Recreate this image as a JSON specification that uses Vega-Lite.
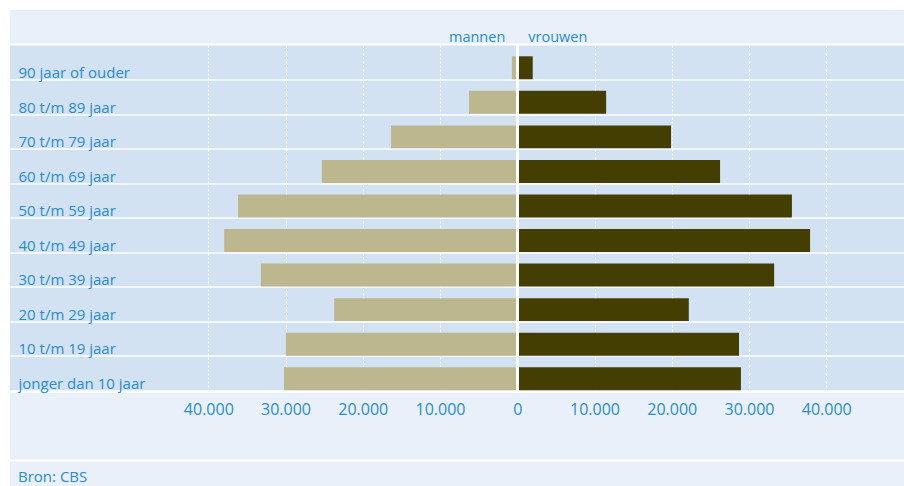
{
  "$schema": "https://vega.github.io/schema/vega-lite/v6.json",
  "background": "white",
  "padding": {"left": 10, "top": 10, "right": 0, "bottom": 0},
  "spacing": 1.5,
  "bounds": "flush",
  "resolve": {"scale": {"x": "independent"}, "axis": {"x": "independent"}},
  "config": {"font": "Open Sans", "view": {"stroke": null}},
  "vconcat": [
    {
      "width": 894,
      "height": 33.5,
      "view": {"fill": "#e9f0f9", "stroke": null},
      "layer": [
        {
          "data": {"values": [{"geslacht": "mannen"}]},
          "mark": {"type": "text", "align": "right", "baseline": "alphabetic", "dx": -12, "dy": 14.75, "fontSize": 14.5, "color": "#2a8ccb"},
          "encoding": {
            "text": {"field": "geslacht"},
            "x": {"datum": 0, "type": "quantitative", "scale": {"domain": [-65670, 50060], "nice": false, "zero": false}, "axis": null}
          }
        },
        {
          "data": {"values": [{"geslacht": "vrouwen"}]},
          "mark": {"type": "text", "align": "left", "baseline": "alphabetic", "dx": 11, "dy": 14.75, "fontSize": 14.5, "color": "#2a8ccb"},
          "encoding": {
            "text": {"field": "geslacht"},
            "x": {"datum": 0, "type": "quantitative"}
          }
        }
      ]
    },
    {
      "width": 894,
      "height": 345.5,
      "view": {"fill": "#d3e2f2", "stroke": null},
      "data": {
        "values": [
          {"leeftijd": "90 jaar of ouder", "geslacht": "mannen", "aantal": -700},
          {"leeftijd": "90 jaar of ouder", "geslacht": "vrouwen", "aantal": 2000},
          {"leeftijd": "80 t/m 89 jaar", "geslacht": "mannen", "aantal": -6250},
          {"leeftijd": "80 t/m 89 jaar", "geslacht": "vrouwen", "aantal": 11500},
          {"leeftijd": "70 t/m 79 jaar", "geslacht": "mannen", "aantal": -16350},
          {"leeftijd": "70 t/m 79 jaar", "geslacht": "vrouwen", "aantal": 19900},
          {"leeftijd": "60 t/m 69 jaar", "geslacht": "mannen", "aantal": -25300},
          {"leeftijd": "60 t/m 69 jaar", "geslacht": "vrouwen", "aantal": 26250},
          {"leeftijd": "50 t/m 59 jaar", "geslacht": "mannen", "aantal": -36150},
          {"leeftijd": "50 t/m 59 jaar", "geslacht": "vrouwen", "aantal": 35550},
          {"leeftijd": "40 t/m 49 jaar", "geslacht": "mannen", "aantal": -37950},
          {"leeftijd": "40 t/m 49 jaar", "geslacht": "vrouwen", "aantal": 37900},
          {"leeftijd": "30 t/m 39 jaar", "geslacht": "mannen", "aantal": -33200},
          {"leeftijd": "30 t/m 39 jaar", "geslacht": "vrouwen", "aantal": 33250},
          {"leeftijd": "20 t/m 29 jaar", "geslacht": "mannen", "aantal": -23700},
          {"leeftijd": "20 t/m 29 jaar", "geslacht": "vrouwen", "aantal": 22200},
          {"leeftijd": "10 t/m 19 jaar", "geslacht": "mannen", "aantal": -29950},
          {"leeftijd": "10 t/m 19 jaar", "geslacht": "vrouwen", "aantal": 28700},
          {"leeftijd": "jonger dan 10 jaar", "geslacht": "mannen", "aantal": -30200},
          {"leeftijd": "jonger dan 10 jaar", "geslacht": "vrouwen", "aantal": 28950}
        ]
      },
      "layer": [
        {
          "mark": {"type": "bar", "height": {"band": 0.665}, "yOffset": 5},
          "encoding": {
            "y": {
              "field": "leeftijd",
              "type": "nominal",
              "sort": ["90 jaar of ouder", "80 t/m 89 jaar", "70 t/m 79 jaar", "60 t/m 69 jaar", "50 t/m 59 jaar", "40 t/m 49 jaar", "30 t/m 39 jaar", "20 t/m 29 jaar", "10 t/m 19 jaar", "jonger dan 10 jaar"],
              "scale": {"paddingInner": 0, "paddingOuter": 0},
              "axis": {
                "title": null, "domain": false, "ticks": false,
                "grid": true, "gridColor": "white", "gridWidth": 1.5, "bandPosition": 1,
                "labelAlign": "left", "labelBaseline": "alphabetic", "labelPadding": -8, "labelOffset": 15.3,
                "labelFontSize": 15, "labelColor": "#2a8ccb", "labelLimit": 300
              }
            },
            "x": {
              "field": "aantal",
              "type": "quantitative",
              "stack": null,
              "scale": {"domain": [-65670, 50060], "nice": false, "zero": false},
              "axis": {
                "title": null,
                "values": [-40000, -30000, -20000, -10000, 0, 10000, 20000, 30000, 40000],
                "labels": false, "ticks": false, "domain": false,
                "grid": true, "gridColor": "white", "gridDash": [2, 2], "gridWidth": 1
              }
            },
            "color": {
              "field": "geslacht",
              "type": "nominal",
              "scale": {"domain": ["mannen", "vrouwen"], "range": ["#bcb78f", "#453e03"]},
              "legend": null
            }
          }
        },
        {
          "mark": {"type": "rule", "color": "white", "strokeWidth": 2},
          "encoding": {"x": {"datum": 0, "type": "quantitative"}}
        }
      ]
    },
    {
      "width": 894,
      "height": 66.5,
      "view": {"fill": "#e9f0f9", "stroke": null},
      "data": {"values": []},
      "mark": "point",
      "encoding": {
        "x": {
          "field": "aantal",
          "type": "quantitative",
          "scale": {"domain": [-65670, 50060], "nice": false, "zero": false},
          "axis": {
            "orient": "top",
            "offset": -21.5,
            "title": null,
            "values": [-40000, -30000, -20000, -10000, 0, 10000, 20000, 30000, 40000],
            "labelExpr": "replace(format(abs(datum.value), ','), ',', '.')",
            "ticks": false, "domain": false, "grid": false,
            "labelPadding": 0, "labelBaseline": "alphabetic",
            "labelFontSize": 16, "labelColor": "#2a8ccb",
            "labelOverlap": false, "labelFlush": false
          }
        }
      }
    },
    {
      "width": 894,
      "height": 26,
      "view": {"fill": "#e9f0f9", "stroke": null},
      "title": {"text": "Bron: CBS", "anchor": "start", "frame": "group", "orient": "top", "offset": -35, "baseline": "alphabetic", "dx": 8, "fontSize": 15, "fontWeight": "normal", "color": "#2a8ccb"},
      "data": {"values": []},
      "mark": "text",
      "encoding": {}
    }
  ]
}
